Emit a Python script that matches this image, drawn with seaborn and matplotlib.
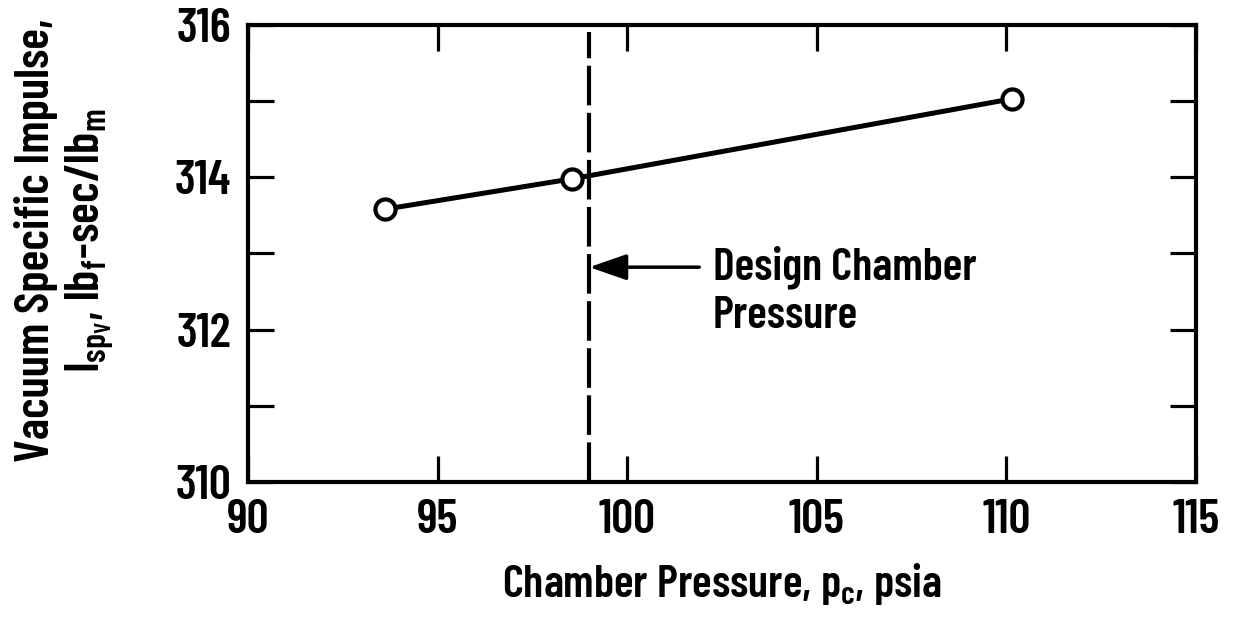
import numpy as np
import pandas as pd
import matplotlib
matplotlib.use("Agg")
import matplotlib.pyplot as plt
import seaborn as sns

# data
chamber_pressure = [93.6, 98.55, 110.15]
specific_impulse = [313.58, 313.98, 315.03]
design_pressure = 99.0
arrow_y = 312.82
x_ticks = [90, 95, 100, 105, 110, 115]
y_ticks = [310, 311, 312, 313, 314, 315, 316]
y_labels = ["310", "", "312", "", "314", "", "316"]

FONT = "Barlow Condensed"
sns.set_style("ticks")
plt.rcParams.update({
    "font.family": [FONT, "DejaVu Sans"],
    "font.weight": "semibold",
    "axes.labelweight": "semibold",
    "text.color": "black",
    "axes.labelcolor": "black",
    "axes.edgecolor": "black",
    "xtick.color": "black",
    "ytick.color": "black",
    "mathtext.fontset": "custom",
    "mathtext.rm": f"{FONT}:semibold",
    "mathtext.it": f"{FONT}:semibold",
    "mathtext.bf": f"{FONT}:semibold",
    "mathtext.sf": f"{FONT}:semibold",
})

df = pd.DataFrame({"pc": chamber_pressure, "isp": specific_impulse})

fig = plt.figure(figsize=(12.42, 6.22), dpi=100)
ax = fig.add_axes([0.1997, 0.225, 0.7633, 0.735])

sns.lineplot(data=df, x="pc", y="isp", ax=ax, color="black", lw=3.6,
             marker="o", markersize=14.5, markerfacecolor="white",
             markeredgecolor="black", markeredgewidth=3, zorder=3)
ax.axvline(design_pressure, ymax=0.985, color="black", lw=3, dashes=(9.5, 1.8), zorder=2)

# arrow pointing at the design line, label to its right
ax.annotate("", xy=(design_pressure, arrow_y), xytext=(101.9, arrow_y),
            arrowprops=dict(arrowstyle="-|>,head_length=2.3,head_width=0.8",
                            color="black", lw=2.5, shrinkA=0, shrinkB=0))
ax.text(102.25, 313.1, "Design Chamber\nPressure", fontsize=33, fontweight="semibold",
        va="top", ha="left", linespacing=1.2)

ax.set_xlim(90, 115)
ax.set_ylim(310, 316)
ax.set_xticks(x_ticks)
ax.set_yticks(y_ticks)
ax.set_yticklabels(y_labels)
ax.tick_params(direction="in", length=19, width=2.3, labelsize=35,
               top=True, right=True)
ax.tick_params(axis="x", pad=12)
ax.tick_params(axis="y", pad=12)
for s in ax.spines.values():
    s.set_linewidth(3)
    s.set_visible(True)

ax.set_xlabel("Chamber Pressure, $p_c$, psia", fontsize=33, labelpad=14)
ax.set_ylabel("Vacuum Specific Impulse,\n$I_{sp_V}$, lb$_f$-sec/lb$_m$",
              fontsize=35, linespacing=1.15)
ax.yaxis.set_label_coords(-0.138, 0.528)

fig.savefig("out.png", dpi=100)
